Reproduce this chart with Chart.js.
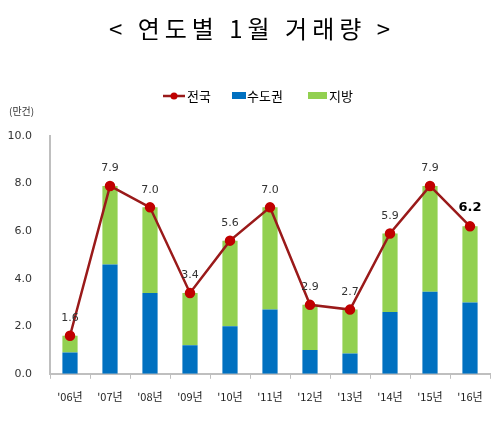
<!DOCTYPE html>
<html>
<head>
<meta charset="utf-8">
<script src="https://cdn.jsdelivr.net/npm/chart.js@4"></script>
<style>
  html, body { margin: 0; padding: 0; background: #fff; }
  #wrap { width: 500px; height: 443px; }
</style>
</head>
<body>
<div id="wrap"><canvas id="chart_trades"></canvas></div>
<script>
// 연도별 1월 거래량 (만건)
const years = ["'06년", "'07년", "'08년", "'09년", "'10년", "'11년", "'12년", "'13년", "'14년", "'15년", "'16년"];
const total = [1.6, 7.9, 7.0, 3.4, 5.6, 7.0, 2.9, 2.7, 5.9, 7.9, 6.2];
const capital = [0.9, 4.6, 3.4, 1.2, 2.0, 2.7, 1.0, 0.85, 2.6, 3.45, 3.0];
const region = [0.7, 3.3, 3.6, 2.2, 3.6, 4.3, 1.9, 1.85, 3.3, 4.45, 3.2];
const yTicks = [0, 2, 4, 6, 8, 10];

const numFont = "'DejaVu Sans', 'Noto Sans CJK KR', sans-serif";
const krFont = "'Noto Sans CJK KR', 'DejaVu Sans', sans-serif";

const BLUE = '#0070C0';
const GREEN = '#92D050';
const LINE = '#9A1A1A';
const DOT = '#C00000';

// title, unit, legend and value labels drawn by hand
const decorPlugin = {
    id: 'decor',
    afterDatasetsDraw(chart) {
        const ctx = chart.ctx;
        const meta = chart.getDatasetMeta(0);
        ctx.save();
        ctx.textAlign = 'center';
        ctx.textBaseline = 'bottom';
        meta.data.forEach((pt, i) => {
            const last = i === total.length - 1;
            ctx.font = last ? "bold 13px " + numFont : "11px " + numFont;
            ctx.fillStyle = last ? '#000' : '#333';
            ctx.fillText(total[i].toFixed(1), pt.x, pt.y - 12);
        });
        ctx.restore();
    },
    afterDraw(chart) {
        const ctx = chart.ctx;
        const area = chart.chartArea;
        const cx = chart.width / 2;
        ctx.save();

        // title
        ctx.font = "24px " + krFont;
        ctx.letterSpacing = '5px';
        ctx.fillStyle = '#000';
        ctx.textAlign = 'center';
        ctx.textBaseline = 'middle';
        ctx.fillText('< 연도별 1월 거래량 >', cx + 2, 29);
        ctx.letterSpacing = '0px';

        // unit
        ctx.font = "10px " + krFont;
        ctx.fillStyle = '#333';
        ctx.textAlign = 'left';
        ctx.fillText('(만건)', 9, area.top - 25);

        // legend
        const ly = area.top - 40;
        let x = cx - 87;
        ctx.font = "13px " + krFont;
        ctx.strokeStyle = LINE;
        ctx.lineWidth = 2.5;
        ctx.beginPath();
        ctx.moveTo(x, ly);
        ctx.lineTo(x + 22, ly);
        ctx.stroke();
        ctx.fillStyle = DOT;
        ctx.beginPath();
        ctx.arc(x + 11, ly, 3.5, 0, Math.PI * 2);
        ctx.fill();
        ctx.fillStyle = '#000';
        ctx.fillText('전국', x + 24, ly);
        x += 69;
        ctx.fillStyle = BLUE;
        ctx.fillRect(x, ly - 4, 14, 7);
        ctx.fillStyle = '#000';
        ctx.fillText('수도권', x + 15, ly);
        x += 76;
        ctx.fillStyle = GREEN;
        ctx.fillRect(x, ly - 4, 19, 7);
        ctx.fillStyle = '#000';
        ctx.fillText('지방', x + 21, ly);
        ctx.restore();
    }
};

new Chart(document.getElementById('chart_trades'), {
    data: {
        labels: years,
        datasets: [
            {
                type: 'line',
                label: '전국',
                data: total,
                stack: 'line',
                borderColor: LINE,
                borderWidth: 2.5,
                pointBackgroundColor: DOT,
                pointBorderColor: DOT,
                pointRadius: 4,
                tension: 0,
                order: 0,
            },
            {
                type: 'bar',
                label: '수도권',
                data: capital,
                stack: 'bars',
                backgroundColor: BLUE,
                barPercentage: 0.38,
                categoryPercentage: 1,
                order: 1,
            },
            {
                type: 'bar',
                label: '지방',
                data: region,
                stack: 'bars',
                backgroundColor: GREEN,
                barPercentage: 0.38,
                categoryPercentage: 1,
                order: 1,
            },
        ],
    },
    options: {
        responsive: true,
        maintainAspectRatio: false,
        animation: false,
        layout: { padding: { top: 136, right: 10, bottom: 29, left: 0 } },
        plugins: {
            legend: { display: false },
            title: { display: false },
            tooltip: { enabled: false },
        },
        scales: {
            x: {
                stacked: true,
                grid: { display: true, drawOnChartArea: false, drawTicks: true, tickLength: 5, color: '#BFBFBF', offset: true },
                border: { display: true, color: '#BFBFBF', width: 2 },
                ticks: { color: '#222', font: { size: 11, family: krFont }, padding: 11 },
            },
            y: {
                stacked: true,
                min: 0,
                max: 10,
                afterBuildTicks: (scale) => { scale.ticks = yTicks.map(v => ({ value: v })); },
                afterFit: (scale) => { scale.width = 50; },
                grid: { display: false },
                border: { display: true, color: '#BFBFBF', width: 2 },
                ticks: {
                    color: '#333',
                    font: { size: 11, family: numFont },
                    padding: 10,
                    callback: (v) => Number(v).toFixed(1),
                },
            },
        },
    },
    plugins: [decorPlugin],
});
</script>
</body>
</html>
